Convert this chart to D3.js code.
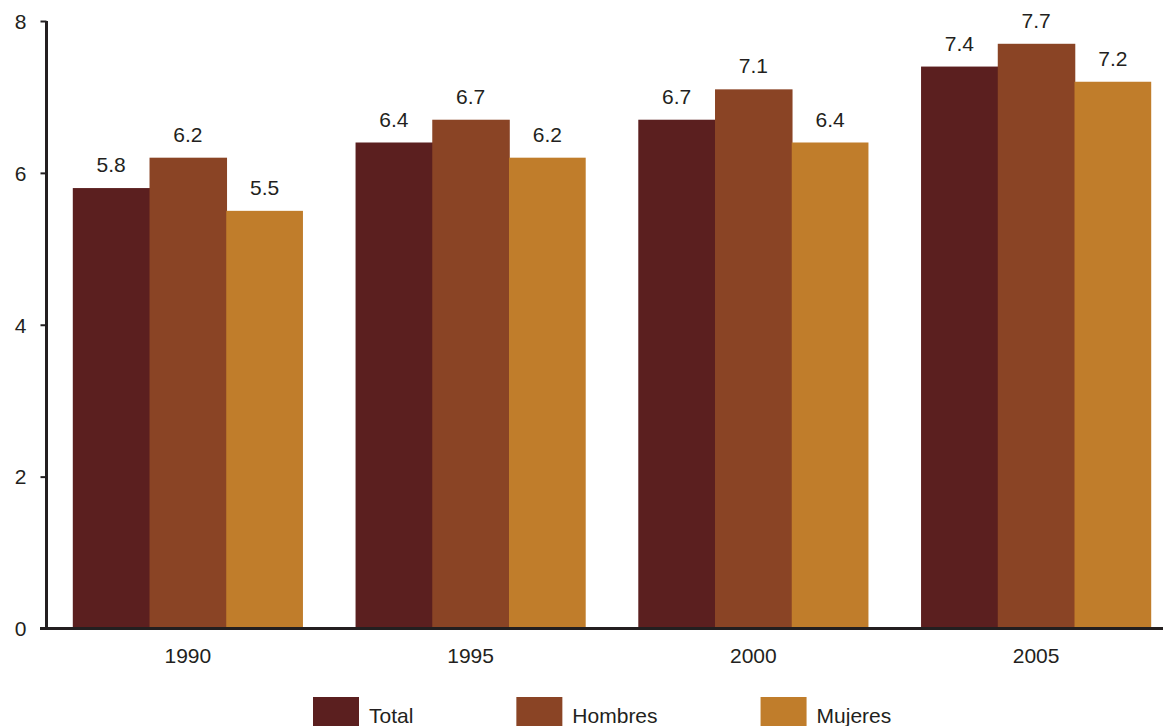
<!DOCTYPE html>
<html><head><meta charset="utf-8">
<script src="https://cdn.jsdelivr.net/npm/d3@7"></script>
<style>body{margin:0;background:#fff}svg{display:block}text{font-family:"Liberation Sans",Arial,sans-serif;fill:#231f20}</style>
</head><body>
<svg id="c" width="1163" height="726"></svg>
<script>
const years = ["1990","1995","2000","2005"];
const seriesNames = ["Total","Hombres","Mujeres"];
const total = [5.8, 6.4, 6.7, 7.4];
const hombres = [6.2, 6.7, 7.1, 7.7];
const mujeres = [5.5, 6.2, 6.4, 7.2];
const yTicks = [0, 2, 4, 6, 8];
const colors = ["#5b1f1f", "#8a4425", "#c07d2b"];

const FS = 21;
const values = [total, hombres, mujeres];
const svg = d3.select("#c");
const x0 = d3.scaleBand().domain(years).range([46.5, 1177.5]).paddingInner(0.186).paddingOuter(0.093);
const x1 = d3.scaleBand().domain(seriesNames).range([0, x0.bandwidth()]);
const y = d3.scaleLinear().domain([0, 8]).range([628.5, 21]);
const color = d3.scaleOrdinal().domain(seriesNames).range(colors);

const g = svg.append("g");
years.forEach((yr, i) => {
  const grp = g.append("g").attr("transform", `translate(${x0(yr)},0)`);
  seriesNames.forEach((s, j) => {
    const v = values[j][i];
    grp.append("rect").attr("x", x1(s)).attr("width", x1.bandwidth() + (j < 2 ? 0.8 : 0))
      .attr("y", y(v)).attr("height", y(0) - y(v)).attr("fill", color(s));
    grp.append("text").attr("x", x1(s) + x1.bandwidth()/2).attr("y", y(v) - 16)
      .attr("text-anchor", "middle").attr("font-size", FS).text(v.toFixed(1));
  });
});

// y axis
const yAxis = svg.append("g").attr("transform", "translate(46.5,0)")
  .call(d3.axisLeft(y).tickValues(yTicks).tickSize(6).tickPadding(14).tickFormat(d3.format("d")));
yAxis.select(".domain").attr("stroke", "#231f20").attr("stroke-width", 3).attr("d", `M0,${y(8)}V${y(0)}`);
yAxis.selectAll(".tick line").attr("stroke", "#231f20").attr("stroke-width", 2);
yAxis.selectAll(".tick text").attr("font-size", FS).attr("font-family", "Liberation Sans, Arial, sans-serif").attr("fill", "#231f20").attr("dy", "0.35em");

// x axis
const xAxis = svg.append("g").attr("transform", `translate(0,${y(0)})`)
  .call(d3.axisBottom(x0).tickSize(0).tickPadding(20));
xAxis.select(".domain").attr("stroke", "#231f20").attr("stroke-width", 3).attr("d", "M40,0H1163");
xAxis.selectAll(".tick text").attr("font-size", FS).attr("font-family", "Liberation Sans, Arial, sans-serif").attr("fill", "#231f20").attr("dy", "0.71em");

// legend
let lx = 313;
const leg = svg.append("g");
seriesNames.forEach(s => {
  leg.append("rect").attr("x", lx).attr("y", 697).attr("width", 46).attr("height", 40).attr("fill", color(s));
  const t = leg.append("text").attr("x", lx + 56).attr("y", 723).attr("font-size", FS).text(s);
  lx = lx + 56 + t.node().getComputedTextLength() + 103;
});
</script>
</body></html>
